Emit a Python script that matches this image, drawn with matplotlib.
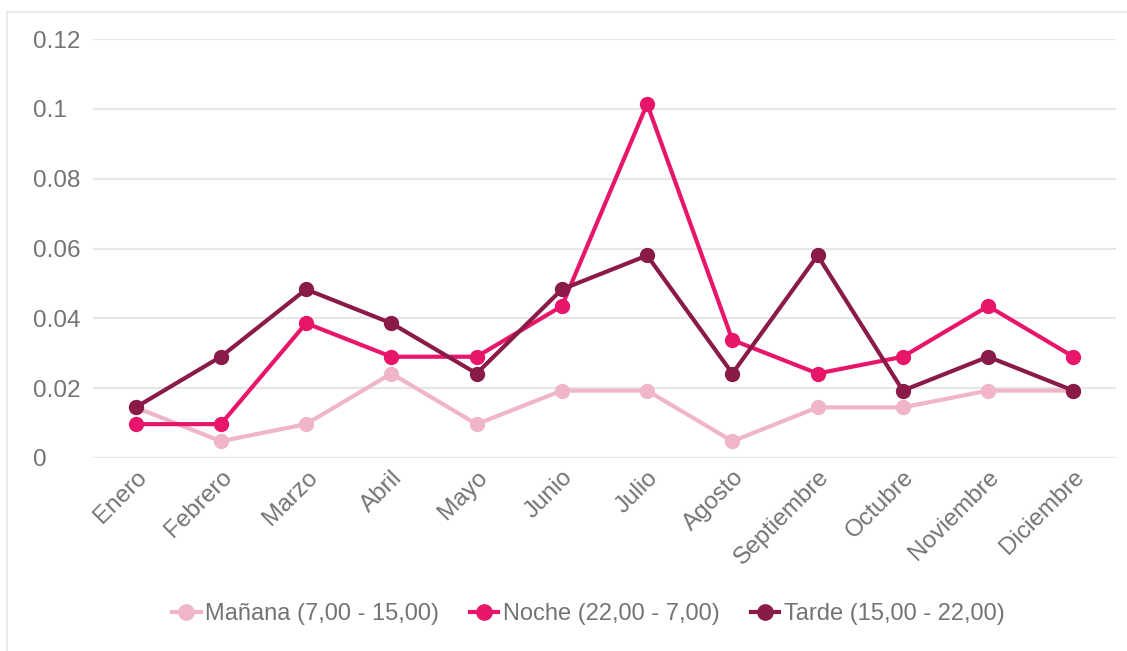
import matplotlib
matplotlib.use("Agg")
import matplotlib.pyplot as plt
from matplotlib.lines import Line2D

months = ["Enero", "Febrero", "Marzo", "Abril", "Mayo", "Junio", "Julio",
          "Agosto", "Septiembre", "Octubre", "Noviembre", "Diciembre"]
manana = [0.0145, 0.0048, 0.0097, 0.0242, 0.0097, 0.0193, 0.0193,
          0.0048, 0.0145, 0.0145, 0.0193, 0.0193]
noche = [0.0097, 0.0097, 0.0386, 0.0290, 0.0290, 0.0435, 0.1014,
         0.0338, 0.0242, 0.0290, 0.0435, 0.0290]
tarde = [0.0145, 0.0290, 0.0483, 0.0386, 0.0242, 0.0483, 0.0580,
         0.0242, 0.0580, 0.0193, 0.0290, 0.0193]
yticks = [0, 0.02, 0.04, 0.06, 0.08, 0.1, 0.12]
ytick_labels = ["0", "0.02", "0.04", "0.06", "0.08", "0.1", "0.12"]
series_names = ["Mañana (7,00 - 15,00)", "Noche (22,00 - 7,00)", "Tarde (15,00 - 22,00)"]
colors = ["#f0b6c7", "#e8166b", "#8a1a48"]
text_color = "#737373"

plt.rcParams['font.family'] = ['Liberation Sans', 'DejaVu Sans']

fig = plt.figure(figsize=(11.27, 6.51), dpi=100)
ax = fig.add_axes([93/1127, 1 - 458/651, (1116 - 93)/1127, (458 - 39)/651])

x = list(range(len(months)))
for vals, c, name, z in zip([manana, noche, tarde], colors, series_names, [2, 3, 4]):
    ax.plot(x, vals, color=c, lw=3, marker='o', ms=10, label=name, zorder=z,
            solid_joinstyle='round', clip_on=False)

ax.set_xlim(-0.5, len(months) - 0.5)
ax.set_ylim(0, 0.12)
ax.set_yticks(yticks)
ax.set_yticklabels(ytick_labels, ha='left')
ax.set_xticks(x)
ax.set_xticklabels(months, rotation=45, ha='right', rotation_mode='anchor')
ax.grid(axis='y', color='#e6e6e6', lw=1.5, zorder=0)
ax.set_axisbelow(True)
for s in ax.spines.values():
    s.set_visible(False)
ax.tick_params(axis='both', length=0, colors=text_color, labelsize=17.5)
ax.tick_params(axis='y', pad=43)
ax.tick_params(axis='x', pad=6)

# outer frame
fig.add_artist(Line2D([7/1127, 7/1127], [0, 1 - 12/651], color='#e6e6e6', lw=1.2))
fig.add_artist(Line2D([7/1127, 1], [1 - 12/651, 1 - 12/651], color='#e6e6e6', lw=1.2))

handles = [Line2D([0], [0], color=c, lw=3, marker='o', ms=11) for c in colors]
fig.legend(handles, series_names, loc='center', bbox_to_anchor=(0.522, 1 - 614/651),
           ncol=3, frameon=False, fontsize=17, handlelength=1.2, handletextpad=0.2,
           columnspacing=1.3, labelcolor=text_color)

fig.savefig("out.png", dpi=100)
